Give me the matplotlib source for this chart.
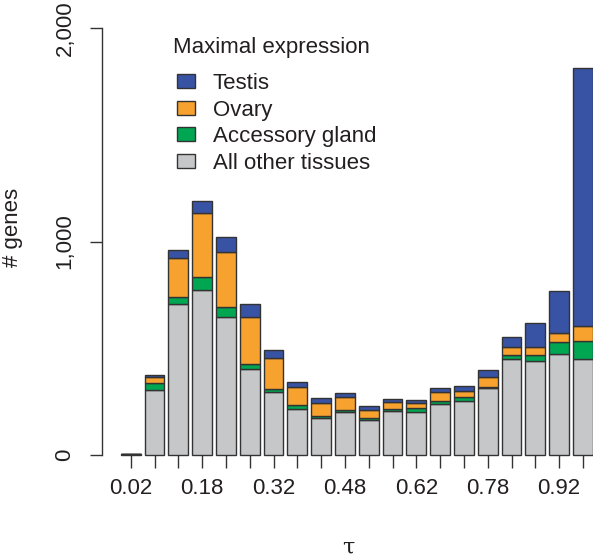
import numpy as np
import matplotlib
matplotlib.use('Agg')
import matplotlib.pyplot as plt
from matplotlib.patches import Patch

plt.rcParams['font.family'] = ['Liberation Sans', 'DejaVu Sans']

# tau bins (centres of 20 bins of width 0.05)
tau = np.arange(0.025, 1.0, 0.05)

# counts per bin
other = [3, 305, 708, 773, 645, 402, 294, 217, 175, 200,
         164, 206, 200, 239, 255, 312, 448, 442, 472, 448]
acc = [0, 30, 34, 63, 50, 23, 15, 17, 8, 11,
       11, 8, 19, 14, 15, 8, 19, 27, 56, 85]
ovary = [0, 28, 180, 297, 255, 223, 143, 86, 59, 59,
         36, 36, 23, 41, 32, 44, 41, 36, 45, 69]
testis = [0, 12, 36, 56, 70, 57, 42, 24, 27, 19,
          19, 12, 16, 18, 21, 34, 47, 112, 196, 1212]

tick_labels = ['0.02', '', '', '0.18', '', '', '0.32', '', '', '0.48',
               '', '', '0.62', '', '', '0.78', '', '', '0.92', '']

series = [('All other tissues', other, '#c6c7c9'),
          ('Accessory gland', acc, '#00a651'),
          ('Ovary', ovary, '#f7a12f'),
          ('Testis', testis, '#3953a4')]

txt = '#231f20'
edge = '#333333'

fig = plt.figure(figsize=(5.93, 5.59), dpi=100)
ax = fig.add_axes([102 / 593, 104 / 559, 492.8 / 593, 427 / 559])

bottom = np.zeros(len(tau))
for name, vals, col in series:
    ax.bar(tau, vals, width=0.042, bottom=bottom, color=col,
           edgecolor=edge, linewidth=1.0, clip_on=False)
    bottom += np.array(vals)

ax.set_xlim(-0.0353, 1.0)
ax.set_ylim(0, 2000)

for s in ['top', 'right', 'bottom']:
    ax.spines[s].set_visible(False)
ax.spines['left'].set_color(edge)
ax.spines['left'].set_linewidth(1.0)

ax.set_yticks([0, 1000, 2000])
ax.set_yticklabels(['0', '1,000', '2,000'], rotation=90, va='center')
ax.set_xticks(tau)
ax.set_xticklabels(tick_labels)
ax.tick_params(axis='y', length=9, width=1.0, color=edge, pad=10,
               labelsize=16, labelcolor=txt)
ax.tick_params(axis='x', length=9.5, width=1.0, color=edge, pad=7,
               labelsize=16, labelcolor=txt)

ax.set_ylabel('# genes', fontsize=16, color=txt)
ax.yaxis.set_label_coords(-0.160, 0.534)
ax.set_xlabel('τ', fontsize=16, color=txt, family=['DejaVu Serif'],
              va='center')
ax.xaxis.set_label_coords(0.499, -0.217)

# legend title drawn on its own so the gap below it can be set
fig.text(173 / 593, 1 - 47 / 559, 'Maximal expression', fontsize=16,
         color=txt, ha='left', va='center')
handles = [Patch(facecolor=col, edgecolor=edge, linewidth=1.0)
           for name, vals, col in series[::-1]]
labels = [name for name, vals, col in series[::-1]]
leg = ax.legend(handles, labels,
                loc='upper left', bbox_to_anchor=(177 / 593, 1 - 73 / 559),
                bbox_transform=fig.transFigure, frameon=False,
                fontsize=16, handlelength=0.82, handleheight=0.62,
                handletextpad=0.78, labelspacing=0.25,
                borderpad=0, borderaxespad=0)
for t in leg.get_texts():
    t.set_color(txt)

fig.savefig('out.png', dpi=100)
